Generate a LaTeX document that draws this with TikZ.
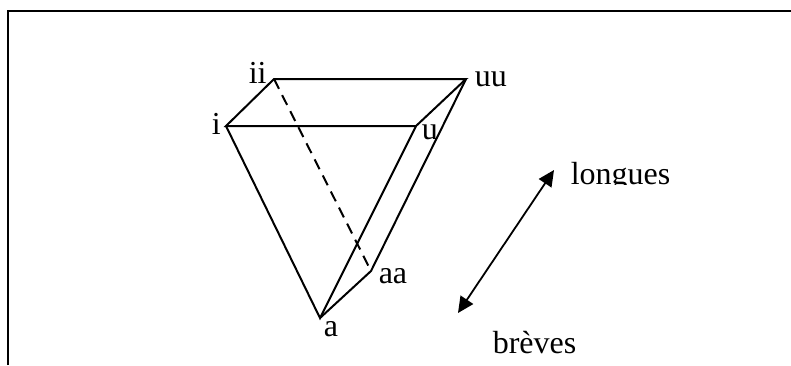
\documentclass[tikz,border=0pt]{standalone}
\usepackage{fontspec}
\usetikzlibrary{arrows.meta}
\setmainfont{Liberation Serif}
\begin{document}
\begin{tikzpicture}[x=1pt, y=-1pt, line width=1.5pt,
        lbl/.style={font=\fontsize{32}{38}\selectfont, inner sep=0pt, anchor=base west},
        edge/.style={line width=2pt, line join=miter},
        hidden/.style={edge, dash pattern=on 11pt off 7pt}]
    \useasboundingbox (0,0) rectangle (791,365);

    % -- frame: left and top sides only ----------------------------------------
    \coordinate (fbl) at (8,365);
    \coordinate (ftl) at (8,11);
    \coordinate (ftr) at (791,11);
    \draw[line width=2.4pt] (fbl) -- (ftl) -- (ftr);

    % -- corners of the prism --------------------------------------------------
    \coordinate (i) at (226,126);
    \coordinate (ii) at (274,79);
    \coordinate (u) at (416,126);
    \coordinate (uu) at (466,79);
    \coordinate (a) at (320,318);
    \coordinate (aa) at (371,271);

    % -- prism edges -----------------------------------------------------------
    \draw[edge] (i) -- (ii) -- (uu) -- (u) -- cycle;
    \draw[edge] (i) -- (a) -- (u);
    \draw[edge] (a) -- (aa) -- (uu);
    \draw[hidden] (ii) -- (aa);

    % -- corner labels ---------------------------------------------------------
    \node[lbl] (lbli) at (211,134) {i};
    \node[lbl] (lblii) at (248,83) {ii};
    \node[lbl] (lblu) at (421,139) {u};
    \node[lbl] (lbluu) at (474,86) {uu};
    \node[lbl] (lbla) at (323,336) {a};
    \node[lbl] (lblaa) at (378,283) {aa};

    % -- long and short vowels -------------------------------------------------
    \coordinate (top) at (554,170);
    \coordinate (bot) at (458,313);
    \draw[{Triangle[length=16pt,width=15pt]}-{Triangle[length=16pt,width=15pt]}, line width=1.8pt] (bot) -- (top);
    \begin{scope}
        \clip (500,150) rectangle (791,184);
        \node[lbl] (lblong) at (570,184) {longues};
    \end{scope}
    \node[lbl] (lbshort) at (492,353) {brèves};
\end{tikzpicture}
\end{document}
